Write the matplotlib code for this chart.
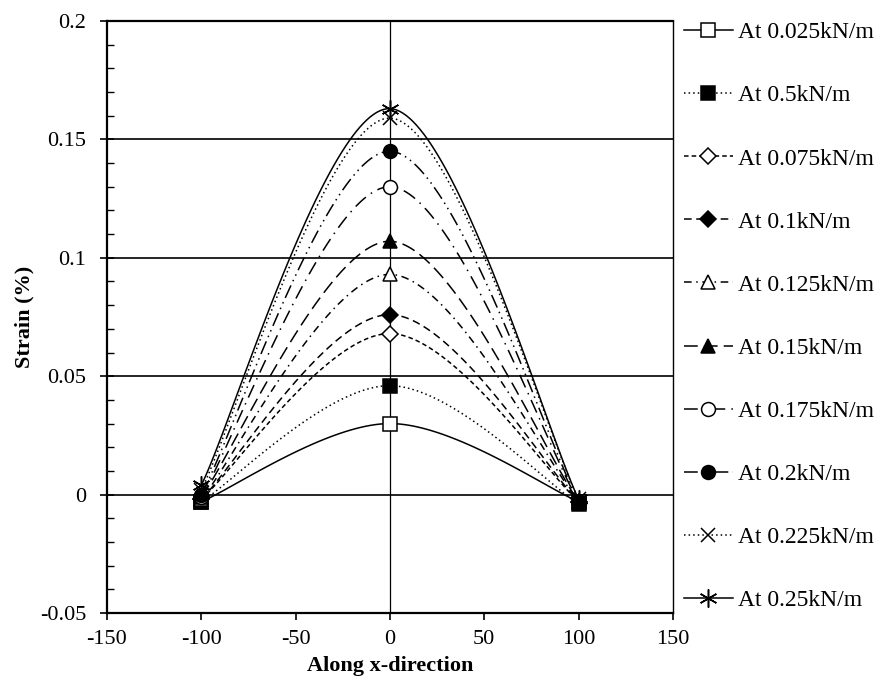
import numpy as np
import matplotlib
matplotlib.use("Agg")
import matplotlib.pyplot as plt

plt.rcParams['font.family'] = ['Liberation Serif', 'DejaVu Serif']
plt.rcParams['font.size'] = 16
plt.rcParams['axes.unicode_minus'] = False

# strain readings at three stations along x, one series per applied load
x_pos = [-100, 0, 100]
loads = ['0.025', '0.5', '0.075', '0.1', '0.125', '0.15', '0.175', '0.2', '0.225', '0.25']
strain_left = [-0.003, -0.003, -0.002, -0.002, -0.002, -0.001, -0.001, 0.000, 0.002, 0.004]
strain_mid = [0.030, 0.046, 0.068, 0.076, 0.093, 0.107, 0.130, 0.145, 0.159, 0.163]
strain_right = [-0.003, -0.004, -0.003, -0.003, -0.003, -0.003, -0.003, -0.003, -0.002, -0.002]

styles = [
    dict(ls='-', marker='s', mfc='white', ms=10),
    dict(ls=(0, (1, 2)), marker='s', mfc='black', ms=10),
    dict(ls=(0, (3, 2)), marker='D', mfc='white', ms=8),
    dict(ls=(0, (5, 3)), marker='D', mfc='black', ms=8),
    dict(ls=(0, (5, 3, 1, 3)), marker='^', mfc='white', ms=10),
    dict(ls=(0, (9, 4)), marker='^', mfc='black', ms=10),
    dict(ls=(0, (9, 4, 1, 4)), marker='o', mfc='white', ms=10),
    dict(ls=(0, (9, 3, 1, 3, 1, 3)), marker='o', mfc='black', ms=10),
    dict(ls=(0, (1, 2)), marker='x', mfc='black', ms=10),
    dict(ls='-', marker=(6, 2, 0), mfc='black', ms=13),
]


def smooth_line(xs, ys, n=60):
    """Spreadsheet-style smoothed line: cubic Bezier pieces with Catmull-Rom tangents."""
    pts = np.column_stack([xs, ys]).astype(float)
    out = []
    for i in range(len(pts) - 1):
        p0 = pts[max(i - 1, 0)]
        p1, p2 = pts[i], pts[i + 1]
        p3 = pts[min(i + 2, len(pts) - 1)]
        c1 = p1 + (p2 - p0) / 6
        c2 = p2 - (p3 - p1) / 6
        t = np.linspace(0, 1, n + 1)[:, None]
        if i > 0:
            t = t[1:]
        seg = ((1 - t) ** 3 * p1 + 3 * (1 - t) ** 2 * t * c1
               + 3 * (1 - t) * t ** 2 * c2 + t ** 3 * p2)
        out.append(seg)
    curve = np.vstack(out)
    return curve[:, 0], curve[:, 1]


fig = plt.figure(figsize=(8.87, 6.89), dpi=100)
ax = fig.add_axes([0.1206, 0.1103, 0.6381, 0.8592])

for y in [0, 0.05, 0.1, 0.15]:
    ax.axhline(y, color='black', lw=1.2, zorder=1)
ax.axvline(0, color='black', lw=0.9, zorder=1)

n = 60
for lab, yl, ym, yr, st in zip(loads, strain_left, strain_mid, strain_right, styles):
    sx, sy = smooth_line(x_pos, [yl, ym, yr], n)
    ax.plot(sx, sy, color='black', lw=1.1, linestyle=st['ls'],
            marker=st['marker'], ms=st['ms'], mfc=st['mfc'], mec='black', mew=1.1,
            markevery=[0, n, 2 * n], label=f'At {lab}kN/m', zorder=3)

ax.set_xlim(-150, 150)
ax.set_ylim(-0.05, 0.2)
ax.set_xticks(np.arange(-150, 151, 50))
ax.set_yticks(np.arange(-0.05, 0.201, 0.05))
ax.set_yticklabels(['-0.05', '0', '0.05', '0.1', '0.15', '0.2'])
ax.set_yticks(np.arange(-0.05, 0.2, 0.01), minor=True)

for side in ['left', 'bottom', 'top']:
    ax.spines[side].set_linewidth(1.6)
ax.spines['right'].set_linewidth(1.0)

ax.tick_params(axis='x', which='major', direction='out', length=5, width=1.2, pad=7)
ax.tick_params(axis='y', which='major', direction='inout', length=10, width=1.2, pad=10)
ax.tick_params(axis='y', which='minor', direction='in', length=5, width=1.0)

ax.set_xlabel('Along x-direction', fontweight='bold', labelpad=5)
ax.set_ylabel('Strain (%)', fontweight='bold', labelpad=4)

ax.legend(loc='upper left', bbox_to_anchor=(0.760, 0.982), bbox_transform=fig.transFigure,
          frameon=False, numpoints=1, fontsize=17, handlelength=2.1, handletextpad=0.2,
          labelspacing=1.76, borderaxespad=0)

fig.savefig('out.png', dpi=100)
